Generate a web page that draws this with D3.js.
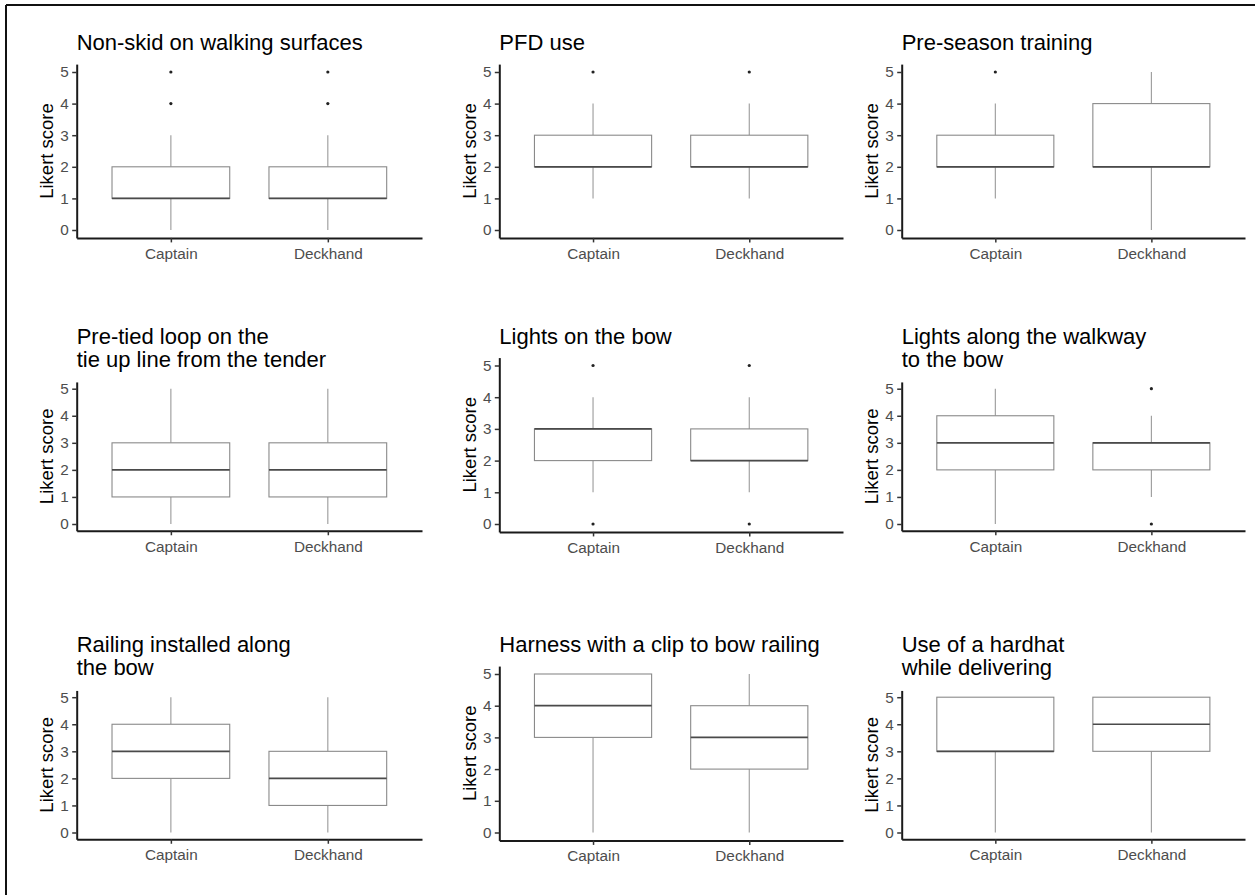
<!DOCTYPE html>
<html>
<head>
<meta charset="utf-8">
<script src="https://cdn.jsdelivr.net/npm/d3@7"></script>
<style>
  html, body { margin: 0; padding: 0; background: #fff; }
  svg { display: block; }
  text { font-family: "Liberation Sans", Arial, sans-serif; }
</style>
</head>
<body>
<svg id="chart" width="1255" height="895"></svg>
<script>
// Likert-score box plots, one panel per safety measure, Captain vs Deckhand.
const roles = ["Captain", "Deckhand"];
const yTicks = [0, 1, 2, 3, 4, 5];
const yLabel = "Likert score";

const panelTitles = [
  ["Non-skid on walking surfaces"],
  ["PFD use"],
  ["Pre-season training"],
  ["Pre-tied loop on the", "tie up line from the tender"],
  ["Lights on the bow"],
  ["Lights along the walkway", "to the bow"],
  ["Railing installed along", "the bow"],
  ["Harness with a clip to bow railing"],
  ["Use of a hardhat", "while delivering"]
];

// Box-plot statistics per panel, as [Captain, Deckhand]
const whiskerLow  = [[0, 0], [1, 1], [1, 0], [0, 0], [1, 1], [0, 1], [0, 0], [0, 0], [0, 0]];
const hingeLow    = [[1, 1], [2, 2], [2, 2], [1, 1], [2, 2], [2, 2], [2, 1], [3, 2], [3, 3]];
const medians     = [[1, 1], [2, 2], [2, 2], [2, 2], [3, 2], [3, 3], [3, 2], [4, 3], [3, 4]];
const hingeHigh   = [[2, 2], [3, 3], [3, 4], [3, 3], [3, 3], [4, 3], [4, 3], [5, 4], [5, 5]];
const whiskerHigh = [[3, 3], [4, 4], [4, 5], [5, 5], [4, 4], [5, 4], [5, 5], [5, 5], [5, 5]];
const outliers    = [
  [[4, 5], [4, 5]],
  [[5], [5]],
  [[5], []],
  [[], []],
  [[0, 5], [0, 5]],
  [[], [0, 5]],
  [[], []],
  [[], []],
  [[], []]
];

// Grid layout
const colLeft  = [76.7, 499.3, 901.7];
const colRight = [422, 843, 1245];
const rowTitleBaseline = [50, 343.5, 652];
const rowZeroY = [230, 524, 832.5];
const titleLineStep = 23.2;

const svg = d3.select("#chart");

// Outer frame (top and left edges)
svg.append("line").attr("x1", 6).attr("x2", 1255).attr("y1", 5).attr("y2", 5)
  .attr("stroke", "#111").attr("stroke-width", 2);
svg.append("line").attr("x1", 6).attr("x2", 6).attr("y1", 5).attr("y2", 895)
  .attr("stroke", "#111").attr("stroke-width", 2);

panelTitles.forEach((title, i) => {
  const row = Math.floor(i / 3), col = i % 3;
  const x0 = colLeft[col], x1 = colRight[col];
  const base = rowTitleBaseline[row];
  const y5 = base + 22 + titleLineStep * (title.length - 1);
  const y0 = rowZeroY[row];
  const unit = (y0 - y5) / 5;

  const y = d3.scaleLinear().domain([-0.25, 5.25])
    .range([y0 + 0.25 * unit, y5 - 0.25 * unit]);
  const x = d3.scalePoint().domain(roles).range([x0, x1]).padding(0.6);
  const step = x.step();
  const boxW = step * 0.75;

  const g = svg.append("g");

  // Title
  const t = g.append("text").attr("x", x0).attr("y", base)
    .attr("font-size", 22).attr("fill", "#000");
  title.forEach((line, k) => {
    t.append("tspan").attr("x", x0).attr("y", base + k * titleLineStep).text(line);
  });

  // Y axis title
  const midY = (y.range()[0] + y.range()[1]) / 2;
  g.append("text")
    .attr("transform", `translate(${x0 - 23.5},${midY}) rotate(-90)`)
    .attr("text-anchor", "middle")
    .attr("font-size", 18.5).attr("fill", "#000")
    .text(yLabel);

  // Boxes
  roles.forEach((r, j) => {
    const cx = x(r);
    const wl = whiskerLow[i][j], q1 = hingeLow[i][j], md = medians[i][j],
          q3 = hingeHigh[i][j], wh = whiskerHigh[i][j];
    if (wh > q3) {
      g.append("line").attr("x1", cx).attr("x2", cx).attr("y1", y(q3)).attr("y2", y(wh))
        .attr("stroke", "#9a9a9a").attr("stroke-width", 1.1);
    }
    if (wl < q1) {
      g.append("line").attr("x1", cx).attr("x2", cx).attr("y1", y(q1)).attr("y2", y(wl))
        .attr("stroke", "#9a9a9a").attr("stroke-width", 1.1);
    }
    g.append("rect")
      .attr("x", cx - boxW / 2).attr("width", boxW)
      .attr("y", y(q3)).attr("height", y(q1) - y(q3))
      .attr("fill", "#fff").attr("stroke", "#8a8a8a").attr("stroke-width", 1.1);
    g.append("line")
      .attr("x1", cx - boxW / 2).attr("x2", cx + boxW / 2)
      .attr("y1", y(md)).attr("y2", y(md))
      .attr("stroke", "#4a4a4a").attr("stroke-width", 1.7);
    g.selectAll(null).data(outliers[i][j]).enter().append("circle")
      .attr("cx", cx).attr("cy", d => y(d)).attr("r", 1.6).attr("fill", "#222");
  });

  // Axes
  const yAxis = g.append("g").attr("transform", `translate(${x0},0)`)
    .call(d3.axisLeft(y).tickValues(yTicks).tickFormat(d3.format("d"))
      .tickSize(4.5).tickSizeOuter(0).tickPadding(3.4));
  const xAxis = g.append("g").attr("transform", `translate(0,${y.range()[0]})`)
    .call(d3.axisBottom(x).tickSize(4.5).tickSizeOuter(0).tickPadding(5.6));

  [yAxis, xAxis].forEach(a => {
    a.select(".domain").attr("stroke", "#1a1a1a").attr("stroke-width", 2);
    a.selectAll(".tick line").attr("stroke", "#333").attr("stroke-width", 1.5);
    a.selectAll(".tick text").attr("fill", "#4d4d4d").attr("font-size", 15.3)
      .attr("font-family", "'Liberation Sans', Arial, sans-serif");
  });
});
</script>
</body>
</html>
